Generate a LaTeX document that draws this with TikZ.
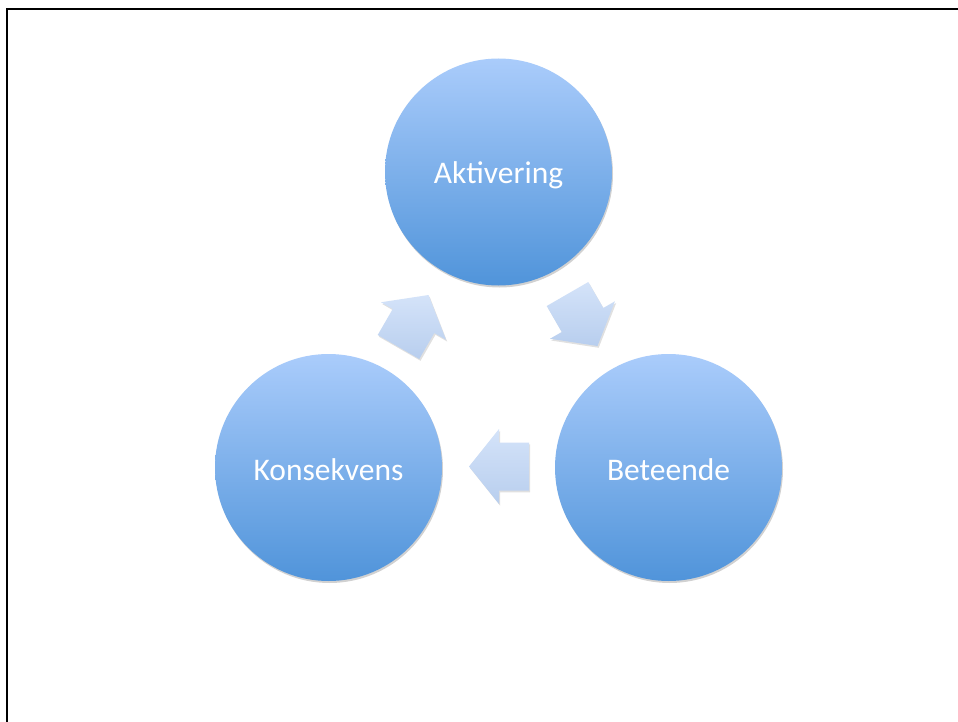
\documentclass[tikz,border=0pt]{standalone}
\usepackage{fontspec}
\setmainfont{Carlito}
\usetikzlibrary{calc}
\definecolor{circtop}{RGB}{170,204,251}
\definecolor{circbot}{RGB}{80,148,218}
\definecolor{arrtop}{RGB}{212,227,249}
\definecolor{arrbot}{RGB}{184,206,238}
\tikzset{
  cyclecircle/.style={circle, minimum size=227pt, inner sep=0pt, draw=none,
    top color=circtop, bottom color=circbot},
  circlabel/.style={text=white, inner sep=0pt, font=\fontsize{31.5}{37}\selectfont},
  circshadow/.style={fill=black, opacity=0.18},
  arrowfill/.style={top color=arrtop, bottom color=arrbot, draw=none},
  arrowshadow/.style={fill=black, opacity=0.12},
  frameline/.style={line width=2pt, black}
}
% #1 origin coordinate (middle of the head base), #2 tip direction angle
\newcommand\cyclearrowpath[2]{([shift={(#1)}]#2:30) -- ([shift={(#1)}]#2+90:37.5) -- ([shift={(#1)}]#2+90:24) -- ([shift={(#1)}]#2+180-38.66:38.42) -- ([shift={(#1)}]#2+180+38.66:38.42) -- ([shift={(#1)}]#2-90:24) -- ([shift={(#1)}]#2-90:37.5) -- cycle}
\newcommand\cyclearrow[2]{%
  \path[arrowshadow, shift={(1.2,1.8)}] \cyclearrowpath{#1}{#2};
  \path[arrowfill] \cyclearrowpath{#1}{#2};}
\begin{document}
\begin{tikzpicture}[x=1pt,y=-1pt]
\useasboundingbox (0,0) rectangle (958,722);
\fill[white] (0,0) rectangle (958,722);
% frame
\draw[frameline] (7,730) -- (7,8.7) -- (966,8.7);
% circle shadows
\fill[circshadow] (499.5,174) circle (113.5);
\fill[circshadow] (329.5,469.5) circle (113.5);
\fill[circshadow] (669.5,469.5) circle (113.5);
% circles
\node[cyclecircle] (akt) at (498.5,172) {};
\node[cyclecircle] (kon) at (328.5,467.5) {};
\node[cyclecircle] (bet) at (668.5,467.5) {};
\node[circlabel] (aktl) at ([yshift=-3.5pt]akt.center) {Aktivering};
\node[circlabel] (konl) at ([yshift=-2pt]kon.center) {Konsekvens};
\node[circlabel] (betl) at ([yshift=-2pt]bet.center) {Beteende};
% arrows
\coordinate (oLeft) at (499,466.5);
\coordinate (oUL) at (413.5,321);
\coordinate (oUR) at (582.5,320);
\cyclearrow{oLeft}{180}
\cyclearrow{oUL}{-60}
\cyclearrow{oUR}{60}
\end{tikzpicture}
\end{document}
